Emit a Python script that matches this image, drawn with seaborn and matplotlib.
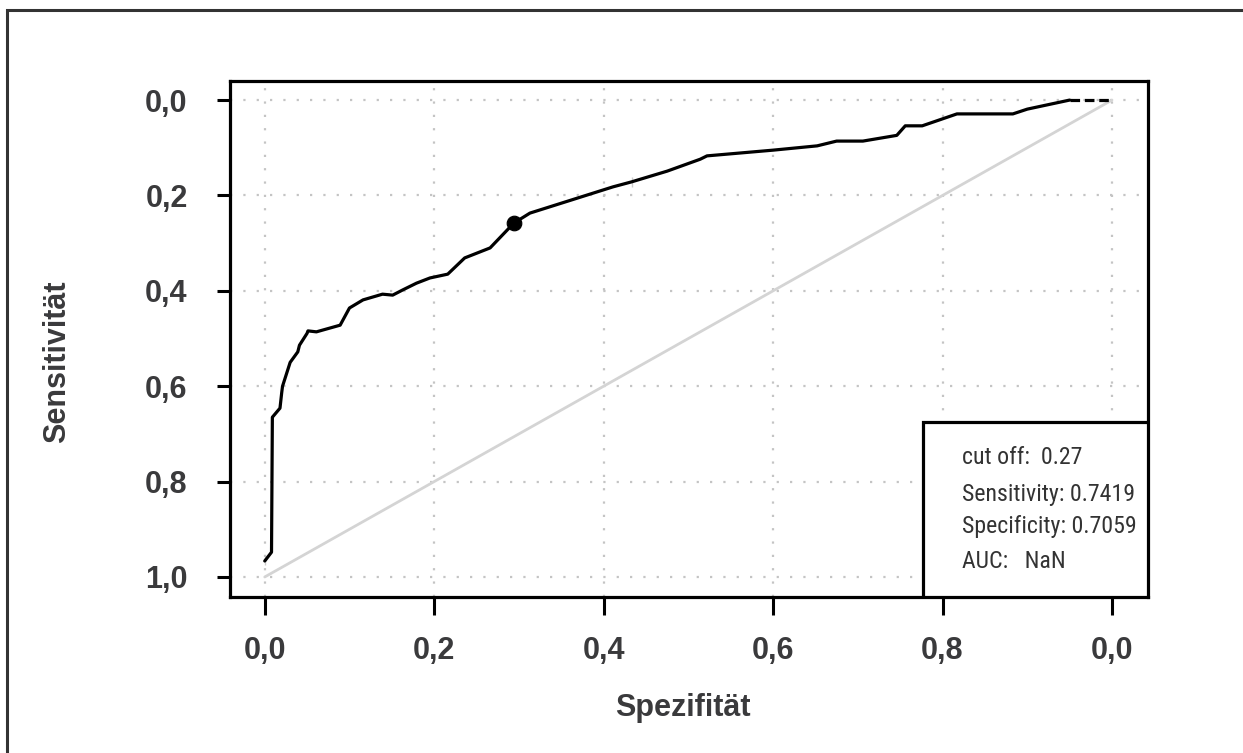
import numpy as np
import pandas as pd
import matplotlib
matplotlib.use("Agg")
import matplotlib.pyplot as plt
import matplotlib.patches as mpatches
from matplotlib import font_manager
import seaborn as sns

# ---- data ----
fpr = [0.0, 0.0, 0.008, 0.009, 0.018, 0.020, 0.021, 0.030, 0.039, 0.041, 0.050,
       0.051, 0.061, 0.089, 0.100, 0.116, 0.139, 0.151, 0.163, 0.179, 0.195,
       0.216, 0.236, 0.266, 0.287, 0.294, 0.313, 0.411, 0.433, 0.433, 0.475,
       0.514, 0.522, 0.600, 0.652, 0.675, 0.706, 0.746, 0.756, 0.776, 0.817,
       0.883, 0.900, 0.950]
sens_axis = [0.975, 0.958, 0.948, 0.665, 0.646, 0.614, 0.600, 0.550, 0.528, 0.514,
             0.489, 0.484, 0.486, 0.472, 0.436, 0.419, 0.407, 0.409, 0.398, 0.384,
             0.373, 0.365, 0.331, 0.310, 0.271, 0.258, 0.237, 0.182, 0.182, 0.161,
             0.149, 0.124, 0.117, 0.105, 0.096, 0.086, 0.086, 0.074, 0.054, 0.054,
             0.029, 0.029, 0.019, 0.000]
dash_x = [0.95, 1.0]
dash_y = [0.0, 0.0]
diag_x = [0.0, 1.0]
diag_y = [1.0, 0.0]
cut_x = [0.2941]
cut_y = [0.2581]
tick_vals = [0.0, 0.2, 0.4, 0.6, 0.8, 1.0]
x_tick_labels = ["0,0", "0,2", "0,4", "0,6", "0,8", "0,0"]
y_tick_labels = ["0,0", "0,2", "0,4", "0,6", "0,8", "1,0"]
legend_lines = ["cut off:  0.27", "Sensitivity: 0.7419", "Specificity: 0.7059", "AUC:   NaN"]

sns.set_theme(style="white")
plt.rcParams['font.family'] = ['Liberation Sans', 'DejaVu Sans']

# find a condensed font if available
names = sorted({f.name for f in font_manager.fontManager.ttflist})
narrow = None
for pref in ["Liberation Sans Narrow", "DejaVu Sans Condensed", "Roboto Condensed",
             "Open Sans Condensed", "Noto Sans Condensed"]:
    if pref in names:
        narrow = pref
        break
if narrow is None:
    for n in names:
        if "Narrow" in n or "Condensed" in n:
            narrow = n
            break

W, H = 1243, 753
fig = plt.figure(figsize=(W / 100, H / 100), dpi=100)
ax = fig.add_axes([230 / W, 1 - 597 / H, (1148 - 230) / W, (597 - 81) / H])

df = pd.DataFrame({"x": fpr, "y": sens_axis})
ddf = pd.DataFrame({"x": diag_x, "y": diag_y})
dash_df = pd.DataFrame({"x": dash_x, "y": dash_y})

# grid
for v in tick_vals:
    ax.axvline(v, color="#c4c4c4", lw=1.6, ls=(0, (1, 5)), zorder=0)
    ax.axhline(v, color="#c4c4c4", lw=1.6, ls=(0, (1, 5)), zorder=0)

sns.lineplot(data=ddf, x="x", y="y", ax=ax, color="#d4d4d4", lw=2.0, sort=False, zorder=1)
sns.lineplot(data=df, x="x", y="y", ax=ax, color="black", lw=2.3, sort=False, zorder=3)
sns.lineplot(data=dash_df, x="x", y="y", ax=ax, color="black", lw=2.3, sort=False,
             zorder=3, linestyle=(0, (3, 1.5)))
sns.scatterplot(x=cut_x, y=cut_y, ax=ax, color="black", s=110, marker="o",
                edgecolor="black", zorder=4)

ax.set_xlim(-0.041, 1.0425)
ax.set_ylim(1.042, -0.04)

ax.set_xticks(tick_vals)
ax.set_xticklabels(x_tick_labels)
ax.set_yticks(tick_vals)
ax.set_yticklabels(y_tick_labels)
ax.tick_params(axis="x", direction="out", length=13, width=2.2, color="black",
               pad=15, labelsize=22, labelcolor="#3a3a3c", bottom=True)
ax.tick_params(axis="y", direction="out", length=9.5, width=2.2, color="black",
               pad=21, labelsize=22, labelcolor="#3a3a3c", left=True)
for lab in ax.get_xticklabels() + ax.get_yticklabels():
    lab.set_fontweight("bold")

for s in ax.spines.values():
    s.set_color("black")
    s.set_linewidth(2.3)

ax.set_xlabel("")
ax.set_ylabel("")
fig.text(683 / W, 1 - 708 / H, "Spezifität", ha="center", va="center",
         fontsize=22, fontweight="bold", color="#3a3a3c")
fig.text(57 / W, 1 - 362 / H, "Sensitivität", ha="center", va="center",
         rotation=90, fontsize=22, fontweight="bold", color="#3a3a3c")

# info box
fig.canvas.draw()
inv = ax.transAxes.inverted()
(x0a, y0a) = inv.transform((923, H - 597))
(x1a, y1a) = inv.transform((1148, H - 422))
box = mpatches.Rectangle((x0a, y0a), x1a - x0a, y1a - y0a, transform=ax.transAxes,
                         facecolor="white", edgecolor="black", lw=2.3, zorder=5)
ax.add_patch(box)

if narrow is not None:
    fam = [narrow, "Liberation Sans"]
    fs = 17.2
else:
    fam = ["Liberation Sans", "DejaVu Sans"]
    fs = 15.5
for i, t in enumerate(legend_lines):
    yc = [458, 494, 527, 562][i]
    fig.text(962 / W, 1 - yc / H, t, ha="left", va="center", fontsize=fs,
             color="#333333", family=fam, zorder=6)

# outer border (cropped at right/bottom)
border = mpatches.Rectangle((7 / W, -0.2), 1.5, 1 - 10 / H + 0.2, transform=fig.transFigure,
                            facecolor="none", edgecolor="#333333", lw=2.2)
fig.patches.append(border)

fig.savefig("out.png", dpi=100)
